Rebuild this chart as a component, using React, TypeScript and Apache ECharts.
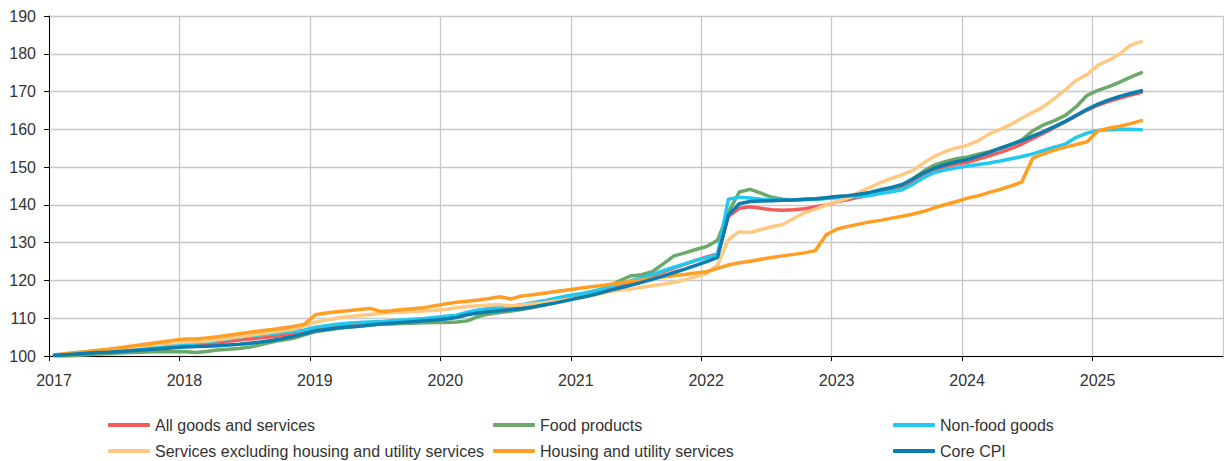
import React, { useEffect, useRef } from "react";
import * as echarts from "echarts";

// Monthly index, January 2017 = 100 (Jan 2017 .. May 2025)
const firstYear = 2017;
const monthCount = 101;
const months: string[] = [];
for (let i = 0; i < monthCount; i++) {
  const y = firstYear + Math.floor(i / 12);
  const m = (i % 12) + 1;
  months.push(`${y}-${m < 10 ? "0" : ""}${m}`);
}

const seriesNames = [
  "All goods and services",
  "Food products",
  "Non-food goods",
  "Services excluding housing and utility services",
  "Housing and utility services",
  "Core CPI",
];

const allGoods = [
  100.2, 100.4, 100.6, 100.8, 101.0, 101.2, 101.4, 101.6, 101.8, 102.0, 102.2, 102.4,
  102.6, 102.8, 103.0, 103.4, 103.9, 104.2, 104.5, 104.8, 105.1, 105.4, 105.8, 106.3,
  107.0, 107.4, 107.8, 108.1, 108.4, 108.6, 108.8, 109.0, 109.2, 109.4, 109.6, 109.9,
  110.1, 110.4, 111.3, 111.9, 112.2, 112.5, 112.8, 113.1, 113.5, 114.0, 114.6, 115.2,
  115.8, 116.4, 117.1, 117.9, 118.7, 119.5, 120.4, 121.3, 122.3, 123.3, 124.3, 125.3,
  126.2, 127.0, 137.0, 139.1, 139.5, 139.1, 138.7, 138.6, 138.7, 139.0, 139.5, 140.0,
  140.8, 141.4, 142.0, 142.6, 143.2, 143.8, 144.6, 146.1, 147.9, 149.3, 150.2, 150.8,
  151.3, 152.1, 153.0, 153.9, 154.9, 156.1, 157.6, 159.0, 160.5, 162.0, 163.6, 165.1,
  166.4, 167.4, 168.3, 169.1, 169.8,
];

const foodProducts = [
  100.0, 100.0, 100.1, 100.3, 100.5, 100.6, 100.8, 100.9, 101.0, 101.1, 101.1, 101.1,
  101.1, 100.9, 101.2, 101.6, 101.8, 102.0, 102.4, 103.0, 103.7, 104.2, 104.7, 105.6,
  106.4, 106.9, 107.3, 107.6, 107.9, 108.2, 108.4, 108.5, 108.6, 108.7, 108.8, 108.9,
  108.9, 109.0, 109.3, 110.5, 111.1, 111.5, 111.9, 112.3, 112.8, 113.4, 114.1, 114.9,
  115.6, 116.3, 117.2, 118.4, 119.9, 121.2, 121.5, 122.3, 124.4, 126.5, 127.3, 128.2,
  129.0, 130.6, 138.0, 143.4, 144.1, 143.1, 142.0, 141.5, 141.3, 141.4, 141.5, 141.8,
  142.2, 142.3, 142.6, 143.0, 143.6, 144.3, 145.2, 147.0, 149.0, 150.6, 151.5, 152.2,
  152.7, 153.4, 154.1, 154.9, 155.9, 157.2, 159.6, 161.2, 162.3, 163.7, 166.0, 169.0,
  170.3, 171.3, 172.5, 173.8, 175.0,
];

const nonFoodGoods = [
  100.3, 100.5, 100.8, 101.0, 101.2, 101.5, 101.8, 102.0, 102.3, 102.5, 102.7, 103.0,
  103.2, 103.4, 103.7, 104.1, 104.5, 105.0, 105.3, 105.6, 105.9, 106.2, 106.5, 106.9,
  107.6, 108.0, 108.4, 108.7, 108.9, 109.0, 109.1, 109.3, 109.5, 109.7, 109.9, 110.2,
  110.5, 110.8, 111.6, 112.2, 112.6, 112.9, 113.2, 113.6, 114.1, 114.6, 115.2, 115.8,
  116.3, 116.8, 117.5, 118.3, 119.1, 119.9, 120.7, 121.6, 122.6, 123.5, 124.4, 125.3,
  126.0, 126.8, 141.5, 142.0, 141.8, 141.5, 141.3, 141.3, 141.3, 141.4, 141.5, 141.7,
  141.9, 142.0, 142.2, 142.5, 143.0, 143.5, 144.0, 145.5, 147.3, 148.6, 149.3, 149.8,
  150.3, 150.7, 151.1, 151.6, 152.2, 152.8, 153.5, 154.4, 155.3, 156.1, 157.9, 159.0,
  159.7, 159.9, 160.0, 160.0, 159.9,
];

const servicesExHousing = [
  100.2, 100.5, 100.8, 101.1, 101.4, 101.7, 102.0, 102.3, 102.6, 102.9, 103.2, 103.5,
  103.7, 103.8, 104.0, 104.3, 104.7, 105.1, 105.5, 105.9, 106.3, 106.7, 107.1, 107.9,
  109.0, 109.5, 110.0, 110.4, 110.7, 111.0, 111.3, 111.5, 111.6, 111.8, 111.9, 112.1,
  112.3, 112.8, 113.1, 113.3, 113.5, 113.6, 113.3, 113.5, 113.8, 114.1, 114.5, 114.9,
  115.3, 115.8, 116.3, 117.0, 117.4, 117.7, 118.2, 118.6, 119.0, 119.5, 120.2, 121.0,
  121.8, 124.1, 130.8, 132.9, 132.7, 133.5, 134.2, 134.8, 136.4, 137.9, 138.9, 140.0,
  140.9, 141.8, 143.3, 144.6, 145.9, 147.0, 148.0, 149.2, 151.2, 152.9, 154.2, 155.1,
  155.8, 157.0, 158.8, 160.0, 161.3, 163.0, 164.5, 166.0, 168.2, 170.5, 173.0, 174.5,
  177.0, 178.3, 180.0, 182.3, 183.2,
];

const housingUtilities = [
  100.3, 100.6, 100.9, 101.2, 101.5, 101.8, 102.2, 102.6, 103.0, 103.4, 103.8, 104.2,
  104.5, 104.5, 104.8, 105.1, 105.5, 105.9, 106.3, 106.7, 107.0, 107.4, 107.8, 108.4,
  110.9, 111.4, 111.7, 112.0, 112.3, 112.6, 111.8, 112.0, 112.3, 112.5, 112.8, 113.3,
  113.8, 114.2, 114.5, 114.8, 115.2, 115.7, 115.1, 115.9, 116.2, 116.6, 117.0, 117.4,
  117.8, 118.2, 118.5, 118.9, 119.3, 119.7, 120.1, 120.5, 120.9, 121.3, 121.6, 122.0,
  122.3, 123.2, 124.1, 124.7, 125.1, 125.6, 126.1, 126.5, 126.9, 127.3, 127.9, 132.1,
  133.6, 134.3, 134.9, 135.5, 135.9, 136.5, 137.0, 137.6, 138.3, 139.3, 140.1, 140.9,
  141.8, 142.4, 143.3, 144.1, 145.0, 146.1, 152.4, 153.5, 154.5, 155.3, 156.0, 156.7,
  159.6, 160.3, 160.8, 161.5, 162.3,
];

const coreCpi = [
  100.2, 100.3, 100.5, 100.7, 100.9, 101.0, 101.2, 101.4, 101.6, 101.8, 102.0, 102.2,
  102.4, 102.5, 102.6, 102.7, 102.9, 103.1, 103.4, 103.7, 104.1, 104.6, 105.2, 105.9,
  106.7, 107.0, 107.4, 107.7, 107.9, 108.2, 108.5, 108.7, 108.9, 109.1, 109.3, 109.5,
  109.8, 110.2, 110.9, 111.4, 111.7, 112.0, 112.3, 112.6, 113.0, 113.5, 114.0, 114.6,
  115.2, 115.8, 116.5, 117.3, 118.0, 118.7, 119.5, 120.3, 121.2, 122.1, 123.0, 124.0,
  125.0, 126.1, 137.3, 140.3, 140.9, 141.0, 141.1, 141.2, 141.3, 141.5, 141.6, 141.9,
  142.2, 142.4, 142.8, 143.3, 144.0, 144.6, 145.4, 146.9, 148.5, 149.8, 150.7, 151.4,
  152.0, 152.9, 153.9, 155.0, 156.0, 157.0, 158.2, 159.4, 160.7, 162.1, 163.7, 165.3,
  166.7, 167.8, 168.7, 169.5, 170.2,
];

const seriesValues = [allGoods, foodProducts, nonFoodGoods, servicesExHousing, housingUtilities, coreCpi];
const seriesColors = ["#F45B5B", "#6BA96B", "#22C8F0", "#FFC982", "#FF9E22", "#0B7DAF"];

const yTicks = { min: 100, max: 190, step: 10 };
const xYears = { min: 2017, max: 2026 };

// Place each month at its middle on a continuous year scale
const monthToX = (label: string) => {
  const [y, m] = label.split("-").map(Number);
  return y + (m - 0.5) / 12;
};

const FONT = "'Liberation Sans', Arial, sans-serif";
const TEXT_COLOR = "#333333";

// Legend laid out as a 3 x 2 table
const legendCols = [103, 488, 888];
const legendRows = [412, 438];

export default function App() {
  const ref = useRef<HTMLDivElement>(null);

  useEffect(() => {
    if (!ref.current) return;
    const chart = echarts.init(ref.current, undefined, { renderer: "svg" });

    const series = seriesNames.map((name, k) => ({
      name,
      type: "line" as const,
      data: months.map((m, i) => [monthToX(m), seriesValues[k][i]]),
      showSymbol: false,
      symbol: "none",
      lineStyle: { width: 3.5, color: seriesColors[k], cap: "round", join: "round" },
      itemStyle: { color: seriesColors[k] },
      z: 2 + k,
    }));

    const legends = seriesNames.map((name, k) => ({
      show: true,
      data: [name],
      left: legendCols[k % 3],
      top: legendRows[Math.floor(k / 3)],
      icon: "roundRect",
      itemWidth: 42,
      itemHeight: 4,
      itemGap: 0,
      textStyle: { fontFamily: FONT, fontSize: 16, color: TEXT_COLOR },
      selectedMode: false,
    }));

    chart.setOption({
      animation: false,
      backgroundColor: "#ffffff",
      textStyle: { fontFamily: FONT },
      grid: { left: 49, right: 1, top: 16, bottom: 105, containLabel: false },
      legend: legends,
      xAxis: {
        type: "value",
        min: xYears.min,
        max: xYears.max,
        interval: 1,
        axisLine: { show: true, lineStyle: { color: "#000000", width: 1 } },
        axisTick: { show: true, length: 5, lineStyle: { color: "#000000" } },
        axisLabel: {
          show: true,
          showMaxLabel: false,
          margin: 16,
          padding: [0, 0, 0, 10],
          fontFamily: FONT,
          fontSize: 16,
          color: TEXT_COLOR,
          formatter: (v: number) => String(v),
        },
        splitLine: { show: true, lineStyle: { color: "#C8C8C8", width: 1.3 } },
      },
      yAxis: {
        type: "value",
        min: yTicks.min,
        max: yTicks.max,
        interval: yTicks.step,
        axisLine: { show: true, lineStyle: { color: "#000000", width: 1 } },
        axisTick: { show: true, length: 5, lineStyle: { color: "#000000" } },
        axisLabel: {
          margin: 13,
          fontFamily: FONT,
          fontSize: 16,
          color: TEXT_COLOR,
        },
        splitLine: { show: true, lineStyle: { color: "#C8C8C8", width: 1.3 } },
      },
      series,
    });

    return () => chart.dispose();
  }, []);

  return (
    <div
      ref={ref}
      style={{ position: "fixed", left: 0, top: 0, width: 1224, height: 461, background: "#fff" }}
    />
  );
}
